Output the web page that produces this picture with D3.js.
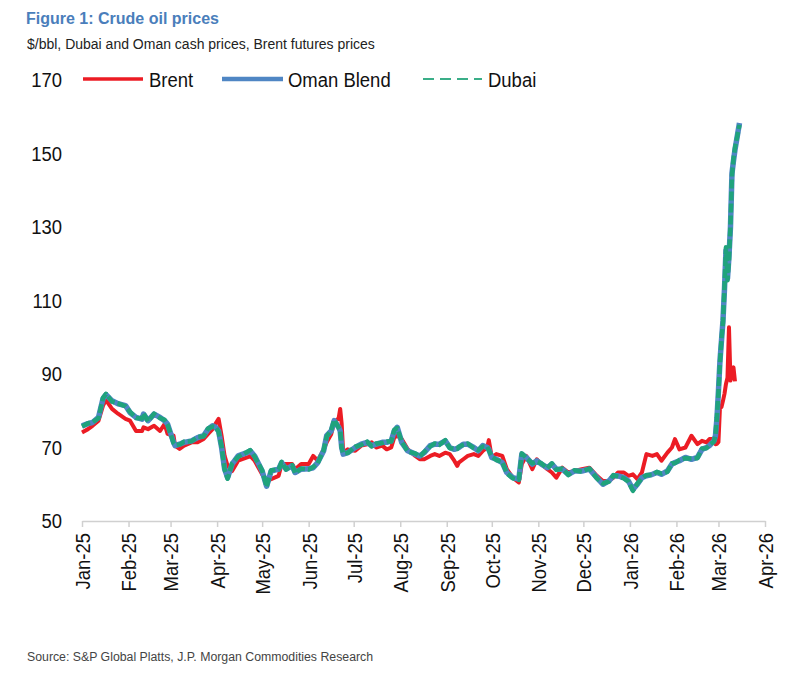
<!DOCTYPE html>
<html>
<head>
<meta charset="utf-8">
<script src="https://cdn.jsdelivr.net/npm/d3@7"></script>
<style>
  body { margin: 0; background: #fff; }
  svg { display: block; }
</style>
</head>
<body>
<div id="chart"></div>
<script>
const W = 800, H = 686;
const NARROW = "'Liberation Sans Narrow', 'Arial Narrow', 'Liberation Sans', Arial, sans-serif";
const SANS = "'Liberation Sans', Arial, sans-serif";
const SQUEEZE = 0.88; // no narrow font installed, so squeeze the regular one

const dates = [
  "2025-01-01","2025-01-05","2025-01-08","2025-01-12","2025-01-15","2025-01-17","2025-01-21","2025-01-25","2025-01-30",
  "2025-02-02","2025-02-06","2025-02-10","2025-02-11","2025-02-14","2025-02-18","2025-02-22","2025-02-25","2025-02-27",
  "2025-03-03","2025-03-04","2025-03-07","2025-03-10","2025-03-15","2025-03-19","2025-03-23","2025-03-26","2025-03-29","2025-03-31",
  "2025-04-02","2025-04-04","2025-04-06","2025-04-08","2025-04-11","2025-04-15","2025-04-21","2025-04-23","2025-04-26",
  "2025-05-01","2025-05-04","2025-05-07","2025-05-12","2025-05-14","2025-05-17","2025-05-21","2025-05-23","2025-05-27",
  "2025-06-01","2025-06-04","2025-06-07","2025-06-11","2025-06-13","2025-06-16","2025-06-18","2025-06-21","2025-06-22","2025-06-23","2025-06-24","2025-06-27",
  "2025-07-02","2025-07-06","2025-07-10","2025-07-13","2025-07-16","2025-07-20","2025-07-23","2025-07-26","2025-07-28","2025-07-30",
  "2025-08-02","2025-08-06","2025-08-11","2025-08-14","2025-08-17","2025-08-21","2025-08-24","2025-08-27","2025-08-31",
  "2025-09-03","2025-09-06","2025-09-08","2025-09-09","2025-09-12","2025-09-15","2025-09-19","2025-09-22","2025-09-25","2025-09-28","2025-09-29",
  "2025-10-01","2025-10-04","2025-10-08","2025-10-11","2025-10-15","2025-10-19","2025-10-21","2025-10-24","2025-10-28","2025-10-31",
  "2025-11-03","2025-11-07","2025-11-10","2025-11-13","2025-11-17","2025-11-21","2025-11-25","2025-11-30",
  "2025-12-05","2025-12-10","2025-12-14","2025-12-18","2025-12-21","2025-12-24","2025-12-28","2025-12-31",
  "2026-01-03","2026-01-06","2026-01-09","2026-01-12","2026-01-16","2026-01-19","2026-01-22","2026-01-26","2026-01-29","2026-01-31",
  "2026-02-03","2026-02-07","2026-02-11","2026-02-15","2026-02-18","2026-02-21","2026-02-23","2026-02-26","2026-02-27","2026-02-28",
  "2026-03-01","2026-03-02","2026-03-03","2026-03-04","2026-03-05","2026-03-06","2026-03-07","2026-03-08","2026-03-09","2026-03-10",
  "2026-03-11","2026-03-12","2026-03-15"
];

const brent = [
  74.1,75.0,75.9,77.3,81.4,82.9,80.5,79.2,77.8,
  77.3,74.5,74.5,75.5,75.0,75.9,74.5,76.4,73.7,
  73.2,70.5,69.6,70.5,71.4,71.4,72.3,73.7,75.0,76.5,
  77.8,73.2,67.7,65.0,63.6,66.4,67.3,67.7,66.4,
  62.7,60.9,61.4,62.3,65.5,65.5,65.5,64.1,65.5,
  65.5,67.7,66.4,69.5,71.4,73.6,76.8,78.0,80.5,76.4,68.6,69.5,
  69.1,70.5,70.9,71.4,70.0,70.5,69.5,70.0,72.7,73.2,
  72.3,69.5,67.7,66.8,66.8,67.7,68.2,67.7,68.6,
  68.2,66.4,65.0,65.9,66.8,67.7,68.2,67.7,69.1,70.0,72.0,
  67.3,68.2,67.7,64.1,61.8,60.5,65.5,67.7,64.1,66.8,
  65.5,64.1,63.2,61.8,64.5,63.2,63.6,64.1,
  64.5,62.3,60.9,60.9,61.8,63.2,63.2,62.3,
  62.7,61.4,63.2,68.2,67.7,68.2,66.4,68.6,70.0,72.3,
  69.5,70.0,73.2,70.9,71.8,71.4,72.3,72.3,70.9,71.0,
  71.5,80.9,81.0,82.7,84.6,87.3,89.0,102.7,88.2,90.0,
  91.8,88.0,null
];

const oman = [
  75.9,76.5,76.8,78.2,83.3,84.4,82.7,81.9,81.4,
  79.5,78.2,77.7,79.1,77.3,79.1,78.2,77.3,76.4,
  71.4,70.5,70.9,71.4,71.8,72.7,73.2,75.0,75.9,75.5,
  74.5,70.0,64.2,61.8,65.5,67.7,68.6,69.1,67.7,
  63.6,59.5,63.6,64.1,65.9,64.1,65.0,63.2,64.1,
  64.2,64.5,65.9,69.1,73.2,74.5,77.3,75.5,74.5,70.0,68.2,68.6,
  70.0,70.9,71.4,70.5,70.9,71.4,71.4,71.8,74.5,75.5,
  71.4,69.1,68.2,67.7,68.6,70.5,70.9,70.9,71.8,
  70.0,69.5,69.8,70.0,70.9,70.9,70.0,69.1,70.5,70.0,69.5,
  67.3,66.8,65.9,63.2,61.8,61.4,68.2,67.3,65.5,66.4,
  65.5,64.5,65.5,64.1,64.1,62.7,63.6,63.6,
  64.1,61.8,60.0,60.9,62.3,62.3,61.8,60.9,
  58.6,60.0,61.8,62.3,62.7,63.2,62.7,63.6,65.5,65.9,
  66.4,67.3,66.8,67.3,69.5,70.0,70.5,71.8,73.2,78.0,
  85.5,93.6,99.0,104.5,113.0,123.6,116.0,122.0,130.0,144.6,
  148.0,151.0,158.3
];

const dubai = [
  75.7,76.6,76.9,78.0,83.5,84.6,82.5,82.0,81.2,
  79.7,78.0,77.9,79.3,77.1,79.2,78.0,77.5,76.2,
  71.2,70.7,70.8,71.6,71.7,72.9,73.0,75.2,75.7,75.6,
  74.3,70.2,64.0,61.5,65.7,67.5,68.8,69.3,67.5,
  63.8,59.3,63.8,64.0,66.1,64.0,65.2,63.0,64.3,
  64.0,64.7,65.7,69.3,73.0,74.7,77.5,75.3,74.7,69.8,68.4,68.5,
  70.2,70.7,71.6,70.3,71.1,71.2,71.6,71.6,74.8,75.3,
  71.6,68.9,68.4,67.5,68.8,70.3,71.1,70.7,72.0,
  69.8,69.7,69.6,70.2,70.7,71.1,69.8,69.3,70.3,70.2,69.3,
  67.5,66.6,66.1,63.0,61.6,61.2,68.4,67.1,65.7,66.2,
  65.7,64.3,65.7,63.9,64.3,62.5,63.8,63.4,
  64.3,61.6,60.2,60.7,62.5,62.1,61.6,60.7,
  58.2,60.2,61.6,62.5,62.5,63.4,62.9,63.4,65.7,65.7,
  66.6,67.1,67.0,67.1,69.7,69.8,70.7,71.6,73.4,78.5,
  85.0,93.0,99.5,104.0,113.5,124.5,115.5,121.0,130.5,144.0,
  148.5,151.5,157.8
];

const yTicks = [50, 70, 90, 110, 130, 150, 170];
const xTickDates = [
  "2025-01-01","2025-02-01","2025-03-01","2025-04-01","2025-05-01","2025-06-01","2025-07-01","2025-08-01",
  "2025-09-01","2025-10-01","2025-11-01","2025-12-01","2026-01-01","2026-02-01","2026-03-01","2026-04-01"
];

const series = [
  { name: "Brent", values: brent, color: "#ec1c24", width: 4, dash: null },
  { name: "Oman Blend", values: oman, color: "#4f86c4", width: 5.5, dash: null },
  { name: "Dubai", values: dubai, color: "#1fa37c", width: 4.5, dash: "9,3" }
];

const parse = d3.timeParse("%Y-%m-%d");
const fmt = d3.timeFormat("%b-%y");

const svg = d3.select("#chart").append("svg")
  .attr("width", W)
  .attr("height", H);

// scales
const x = d3.scaleTime()
  .domain([parse("2025-01-01"), parse("2026-04-01")])
  .range([82, 765]);

const y = d3.scaleLinear()
  .domain([50, 170])
  .range([521, 80]);

// title block
svg.append("text")
  .attr("x", 26).attr("y", 24)
  .attr("font-family", SANS)
  .attr("font-size", 16)
  .attr("font-weight", "bold")
  .attr("fill", "#4a7ebb")
  .text("Figure 1: Crude oil prices");

svg.append("text")
  .attr("x", 27).attr("y", 49)
  .attr("font-family", SANS)
  .attr("font-size", 14)
  .attr("fill", "#222")
  .text("$/bbl, Dubai and Oman cash prices, Brent futures prices");

// y axis (labels only)
const yAxis = svg.append("g")
  .attr("transform", "translate(62,0)")
  .call(d3.axisLeft(y).tickValues(yTicks).tickSize(0).tickPadding(0));
yAxis.select(".domain").remove();
yAxis.selectAll("text")
  .attr("font-family", NARROW)
  .attr("font-size", 21)
  .attr("fill", "#111")
  .attr("transform", `scale(${SQUEEZE},1)`);

// x axis
const xAxis = svg.append("g")
  .attr("transform", `translate(0,${y(50)})`)
  .call(d3.axisBottom(x)
    .tickValues(xTickDates.map(parse))
    .tickFormat(fmt)
    .tickSize(6)
    .tickSizeOuter(0));
xAxis.select(".domain").attr("stroke", "#d0d0d0").attr("stroke-width", 1.5);
xAxis.selectAll(".tick line").attr("stroke", "#d0d0d0").attr("stroke-width", 1.5);
xAxis.selectAll("text")
  .attr("font-family", NARROW)
  .attr("font-size", 21)
  .attr("fill", "#111")
  .attr("text-anchor", "end")
  .attr("transform", `rotate(-90) scale(${SQUEEZE},1)`)
  .attr("x", -12 / SQUEEZE)
  .attr("y", 0)
  .attr("dy", "0.35em");

// lines
series.forEach(s => {
  const pts = dates.map((d, i) => ({ date: parse(d), v: s.values[i] }));
  const line = d3.line()
    .defined(p => p.v != null)
    .x(p => x(p.date))
    .y(p => y(p.v));
  svg.append("path")
    .datum(pts)
    .attr("fill", "none")
    .attr("stroke", s.color)
    .attr("stroke-width", s.width)
    .attr("stroke-linejoin", "round")
    .attr("stroke-dasharray", s.dash)
    .attr("d", line);
});

// legend
const legendItems = [
  { name: "Brent", color: "#ec1c24", width: 3.5, dash: null, x1: 83, x2: 143, tx: 149 },
  { name: "Oman Blend", color: "#4f86c4", width: 4.5, dash: null, x1: 222, x2: 283, tx: 288 },
  { name: "Dubai", color: "#3aae88", width: 1.8, dash: "11,6", x1: 423, x2: 482, tx: 488 }
];
const lg = svg.append("g");
legendItems.forEach(l => {
  lg.append("line")
    .attr("x1", l.x1).attr("x2", l.x2)
    .attr("y1", 79).attr("y2", 79)
    .attr("stroke", l.color)
    .attr("stroke-width", l.width)
    .attr("stroke-dasharray", l.dash);
  lg.append("text")
    .attr("transform", `translate(${l.tx},87) scale(${SQUEEZE},1)`)
    .attr("font-family", NARROW)
    .attr("font-size", 21)
    .attr("fill", "#111")
    .text(l.name);
});

// source
svg.append("text")
  .attr("x", 27).attr("y", 661)
  .attr("font-family", SANS)
  .attr("font-size", 12.3)
  .attr("fill", "#444")
  .text("Source: S&P Global Platts, J.P. Morgan Commodities Research");
</script>
</body>
</html>
